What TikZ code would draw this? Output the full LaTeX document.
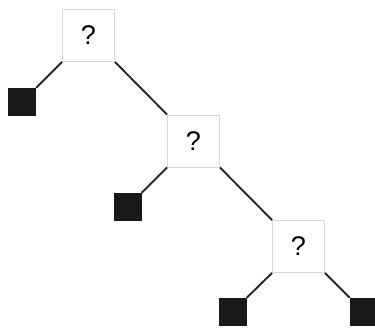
\documentclass[tikz,border=0pt]{standalone}
\usepackage{fontspec}
\setmainfont{Liberation Sans}

\begin{document}
\begin{tikzpicture}[x=1pt,y=-1pt,
  block/.style={rectangle,draw=black!15,line width=0.8pt,minimum size=52pt,inner sep=0pt,font=\fontsize{27}{27}\selectfont},
  leaf/.style={rectangle,fill=black!90,minimum size=28pt,inner sep=0pt},
  edge/.style={draw=black!85,line width=1.9pt}]
\def\dx{105}
\def\dy{105.5}
  \useasboundingbox (0,0) rectangle (375,327);
  %\draw[help lines] (0,0) grid (375,327);
\path
(88.5,35.5) node [block] (q1) {?}
(88.5+\dx,35.5+\dy) node [block] (q2) {?}
(88.5+2*\dx,35.5+2*\dy) node [block] (q3) {?}
(22,102) node [leaf] (s1) {}
(127.5,207) node [leaf] (s2) {}
(232.5,312) node [leaf] (s3) {}
(364,312) node [leaf] (s4) {}
;
\draw[edge] (q1.south west) -- (s1.north east);
\draw[edge] (q1.south east) -- (q2.north west);
\draw[edge] (q2.south west) -- (s2.north east);
\draw[edge] (q2.south east) -- (q3.north west);
\draw[edge] (q3.south west) -- (s3.north east);
\draw[edge] (q3.south east) -- (s4.north west);
\end{tikzpicture}
\end{document}
